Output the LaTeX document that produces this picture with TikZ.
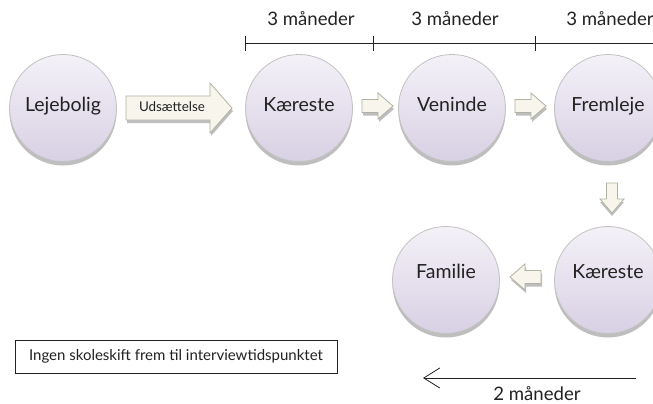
\documentclass[tikz,border=0pt]{standalone}
\usepackage{fontspec}
\setmainfont{Lato}
\usetikzlibrary{arrows.meta}
\definecolor{circtop}{HTML}{F4F1F8}
\definecolor{circbot}{HTML}{D8D0E4}
\definecolor{circline}{HTML}{C2C2C2}
\definecolor{shadowc}{HTML}{BEBEBE}
\definecolor{arrfill}{HTML}{F7F5EC}
\definecolor{arrline}{HTML}{B2B2A4}
\definecolor{txt}{HTML}{222222}
\tikzset{
  state/.style={circle, minimum size=107pt, inner sep=0pt, draw=circline, line width=0.8pt,
    top color=circtop, bottom color=circbot,
    preaction={fill=shadowc, transform canvas={yshift=-4pt}},
    font=\fontsize{19.5}{22}\selectfont, text=txt},
  toprow/.style={text height=14pt, text depth=8pt},
  botrow/.style={text height=11pt, text depth=15pt},
  arrowbox/.style={fill=arrfill, draw=arrline, line width=0.8pt, line join=miter},
  arrowshadow/.style={fill=shadowc},
  tline/.style={draw=txt, line width=0.8pt},
  tlabel/.style={font=\fontsize{18.6}{21}\selectfont, text=txt, inner sep=0pt},
  notebox/.style={draw=txt, line width=0.8pt, font=\fontsize{15}{18}\selectfont, text=txt,
    minimum width=322pt, minimum height=33pt, inner sep=0pt},
}
% horizontal block arrow: tail x, tip x, y centre, body half, head half, signed head length
\newcommand\harr[6]{%
  \fill[arrowshadow, shift={(1,3)}] (#1,{#3-#4}) -- ({#2-#6},{#3-#4}) -- ({#2-#6},{#3-#5}) -- (#2,#3)
    -- ({#2-#6},{#3+#5}) -- ({#2-#6},{#3+#4}) -- (#1,{#3+#4}) -- cycle;
  \draw[arrowbox] (#1,{#3-#4}) -- ({#2-#6},{#3-#4}) -- ({#2-#6},{#3-#5}) -- (#2,#3)
    -- ({#2-#6},{#3+#5}) -- ({#2-#6},{#3+#4}) -- (#1,{#3+#4}) -- cycle;}
% vertical block arrow: tail y, tip y, x centre, body half, head half, signed head length
\newcommand\varr[6]{%
  \fill[arrowshadow, shift={(0,3)}] ({#3-#4},#1) -- ({#3-#4},{#2-#6}) -- ({#3-#5},{#2-#6}) -- (#3,#2)
    -- ({#3+#5},{#2-#6}) -- ({#3+#4},{#2-#6}) -- ({#3+#4},#1) -- cycle;
  \draw[arrowbox] ({#3-#4},#1) -- ({#3-#4},{#2-#6}) -- ({#3-#5},{#2-#6}) -- (#3,#2)
    -- ({#3+#5},{#2-#6}) -- ({#3+#4},{#2-#6}) -- ({#3+#4},#1) -- cycle;}
\begin{document}
\begin{tikzpicture}[x=1pt,y=-1pt]
\useasboundingbox (0,0) rectangle (653,404);
\clip (0,0) rectangle (653,404);
\fill[white] (0,0) rectangle (653,404);

% circles
\node[state, toprow] (L)  at (63,108)  {Lejebolig};
\node[state, toprow] (K1) at (299,108) {Kæreste};
\node[state, toprow] (V)  at (452,108) {Veninde};
\node[state, toprow] (F)  at (608,108) {Fremleje};
\node[state, botrow] (K2) at (608,280) {Kæreste};
\node[state, botrow] (Fa) at (446,280) {Familie};

% block arrows
\harr{126}{232}{108}{12}{25}{22}
\node[font=\fontsize{13.4}{15}\selectfont, text=txt, inner sep=0pt] (U) at (172,107) {Udsættelse};
\harr{362}{393}{106}{6.5}{13}{15}
\harr{515}{546}{106}{6.5}{13}{15}
\varr{183}{213}{612}{5.5}{12}{14}
\harr{541}{510}{277}{6.5}{13}{-15}

% timeline
\coordinate (t0) at (245,43);
\coordinate (t1) at (373,43);
\coordinate (t2) at (535,43);
\coordinate (t3) at (660,43);
\draw[tline] (t0) -- (t3);
\foreach \t in {t0,t1,t2} \draw[tline] ([yshift=7pt]\t) -- ([yshift=-8pt]\t);
\node[tlabel] (m1) at (311,19) {3 måneder};
\node[tlabel] (m2) at (455,19) {3 måneder};
\node[tlabel] (m3) at (610,19) {3 måneder};

% bottom arrow
\coordinate (b0) at (636,378);
\coordinate (b1) at (423,378);
\draw[tline, -{Straight Barb[length=16pt,width=20pt,line width=0.8pt]}] (b0) -- (b1);
\node[tlabel] (m4) at (537,393.5) {2 måneder};

% note box
\node[notebox] (N) at (176,356.5) {Ingen skoleskift frem til interviewtidspunktet};
\end{tikzpicture}
\end{document}
